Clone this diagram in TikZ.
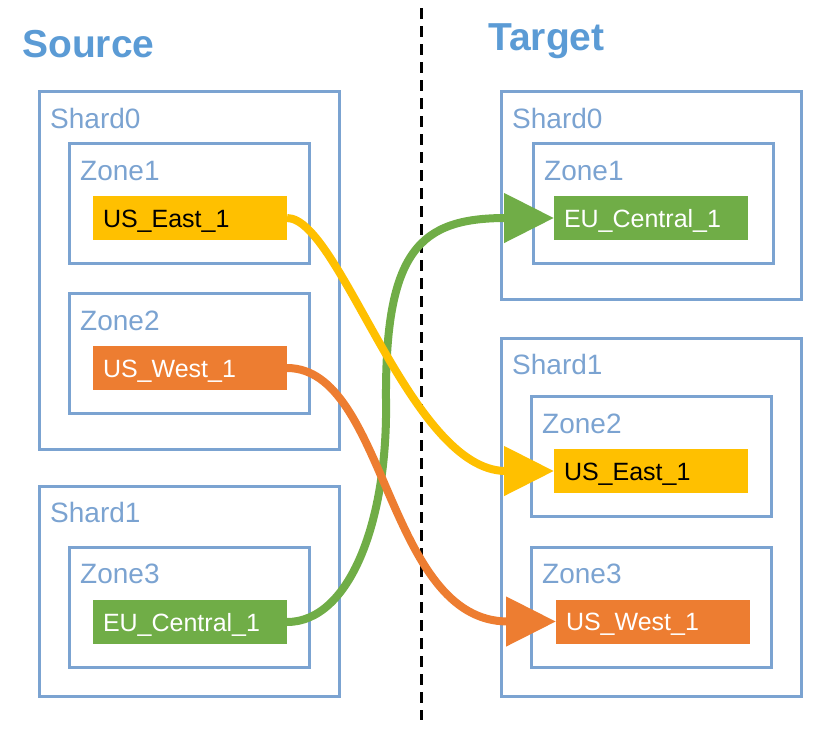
\documentclass[tikz,border=0pt]{standalone}
\usepackage{fontspec}
\setmainfont{Liberation Sans}
\usetikzlibrary{arrows.meta}
\definecolor{bline}{HTML}{7BA3D1}
\definecolor{btitle}{HTML}{5B9BD5}
\definecolor{cyel}{HTML}{FFC000}
\definecolor{corg}{HTML}{ED7D31}
\definecolor{cgrn}{HTML}{70AD47}
\tikzset{
  frame/.style={draw=bline, line width=3pt, inner sep=0pt, outer sep=0pt},
  shardbox/.style={frame, minimum width=300pt},
  zonebox/.style={frame, minimum width=240pt, minimum height=120pt},
  chip/.style={minimum width=194pt, minimum height=44pt, inner sep=0pt, outer sep=0pt,
    text width=174pt, align=left, text height=18pt, text depth=0pt,
    font=\fontsize{25}{30}\selectfont},
  lbl/.style={anchor=base west, inner sep=0pt, text=bline, font=\fontsize{28}{32}\selectfont},
  ttl/.style={anchor=base west, inner sep=0pt, text=btitle, font=\fontsize{39}{44}\selectfont\bfseries},
  flow/.style={line width=8pt, -{Triangle[length=50pt,width=48pt]}},
}
\begin{document}
\begin{tikzpicture}[x=1pt,y=-1pt]
\useasboundingbox (0,0) rectangle (834,732);
% titles
\node[ttl] (tsrc) at (22,57) {Source};
\node[ttl] (ttgt) at (488,50) {Target};
% divider
\coordinate (dtop) at (421,8);
\coordinate (dbot) at (421,720);
\draw[line width=3pt, dash pattern=on 11pt off 7pt] (dtop) -- (dbot);
% source side
\node[shardbox, minimum height=358pt] (ls0) at (189,270) {};
\node[lbl] (ls0l) at (50,128) {Shard0};
\node[zonebox] (lz1) at (189,203) {};
\node[lbl] (lz1l) at (80,180) {Zone1};
\node[chip, fill=cyel, text=black] (lue) at (190,218) {US\_East\_1};
\node[zonebox] (lz2) at (189,353) {};
\node[lbl] (lz2l) at (80,330) {Zone2};
\node[chip, fill=corg, text=white] (luw) at (190,368) {US\_West\_1};
\node[shardbox, minimum height=210pt] (ls1) at (189,591) {};
\node[lbl] (ls1l) at (50,522) {Shard1};
\node[zonebox] (lz3) at (189,607) {};
\node[lbl] (lz3l) at (80,583) {Zone3};
\node[chip, fill=cgrn, text=white] (leu) at (190,622) {EU\_Central\_1};
% target side
\node[shardbox, minimum height=208pt] (rs0) at (651,195) {};
\node[lbl] (rs0l) at (512,128) {Shard0};
\node[zonebox] (rz1) at (653,203) {};
\node[lbl] (rz1l) at (544,180) {Zone1};
\node[chip, fill=cgrn, text=white] (reu) at (651,218) {EU\_Central\_1};
\node[shardbox, minimum height=358pt] (rs1) at (651,517) {};
\node[lbl] (rs1l) at (512,374) {Shard1};
\node[zonebox] (rz2) at (651,456) {};
\node[lbl] (rz2l) at (542,433) {Zone2};
\node[chip, fill=cyel, text=black] (rue) at (651,471) {US\_East\_1};
\node[zonebox] (rz3) at (651,607) {};
\node[lbl] (rz3l) at (542,583) {Zone3};
\node[chip, fill=corg, text=white] (ruw) at (653,621.5) {US\_West\_1};
% flows
\coordinate (gmid) at (386,400);
\draw[flow, draw=cgrn] (leu.east) .. controls +(63,0) and +(2,120) .. (gmid)
   .. controls +(-1,-150) and +(-134,0) .. (reu.west);
\draw[flow, draw=cyel] (lue.east) .. controls +(53,0) and +(-144,0) .. (rue.west);
\draw[flow, draw=corg] (luw.east) .. controls +(100,0) and +(-170,0) .. (ruw.west);
\end{tikzpicture}
\end{document}
